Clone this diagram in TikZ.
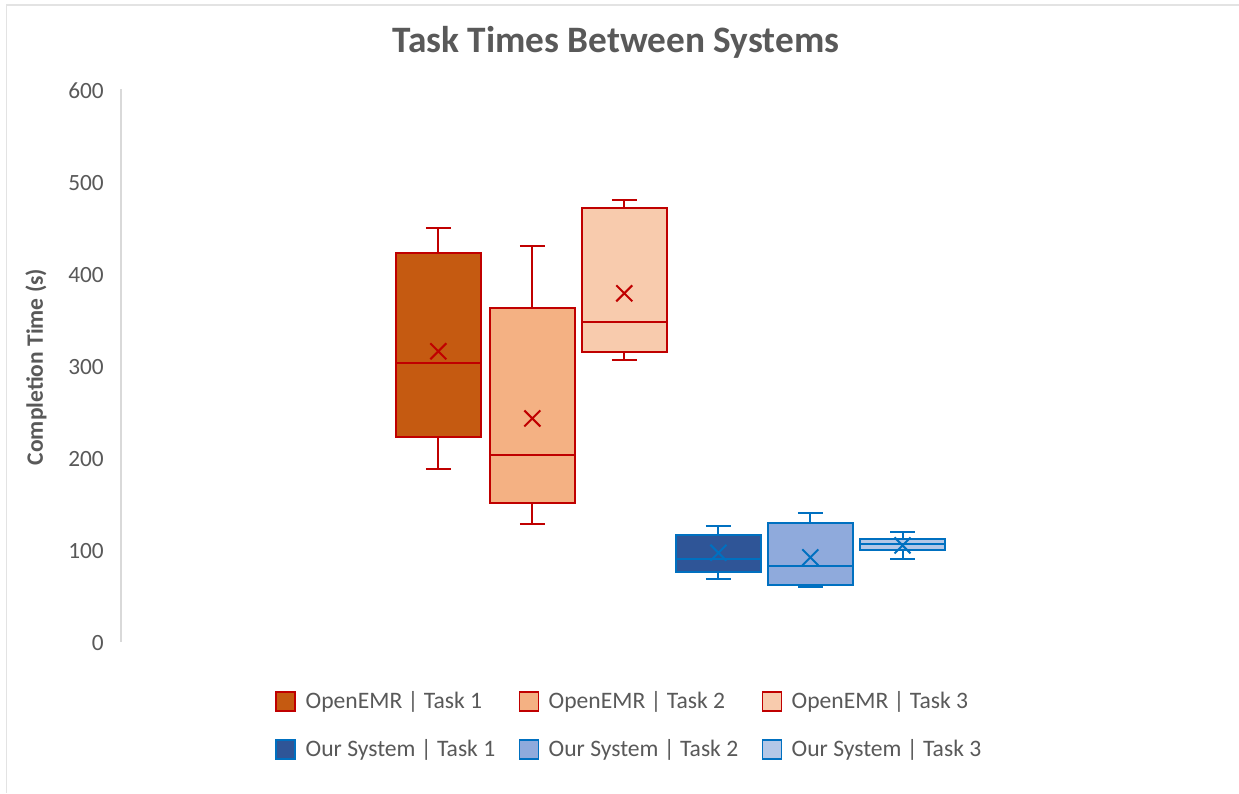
\documentclass[tikz,border=0pt]{standalone}
\usepackage{fontspec}
\setmainfont{Carlito}
\definecolor{txt}{HTML}{595959}
\definecolor{axisgray}{HTML}{D9D9D9}
\definecolor{borderg}{HTML}{E3E3E3}
\definecolor{oA}{HTML}{C55A11}
\definecolor{oB}{HTML}{F4B183}
\definecolor{oC}{HTML}{F8CBAD}
\definecolor{bA}{HTML}{2F5597}
\definecolor{bB}{HTML}{8FAADC}
\definecolor{bC}{HTML}{B4C7E7}
\definecolor{redline}{HTML}{C00000}
\definecolor{blueline}{HTML}{0070C0}
\newcommand\py[1]{642-0.92*#1}
% cx, lo, q1, med, q3, hi, mean, fill, draw
\newcommand\myboxplot[9]{%
  \draw[line width=2pt,#9] (#1,{\py{#5}}) -- (#1,{\py{#6}});
  \draw[line width=2pt,#9] (#1-12.5,{\py{#6}}) -- (#1+12.5,{\py{#6}});
  \draw[line width=2pt,#9] (#1,{\py{#3}}) -- (#1,{\py{#2}});
  \draw[line width=2pt,#9] (#1-12.5,{\py{#2}}) -- (#1+12.5,{\py{#2}});
  \filldraw[line width=2pt,fill=#8,draw=#9] (#1-42.3,{\py{#3}}) rectangle (#1+42.3,{\py{#5}});
  \draw[line width=2pt,#9] (#1-42.3,{\py{#4}}) -- (#1+42.3,{\py{#4}});
  \draw[line width=2pt,#9] (#1-8,{\py{#7}-8}) -- (#1+8,{\py{#7}+8})
                           (#1-8,{\py{#7}+8}) -- (#1+8,{\py{#7}-8});
}
\tikzset{
  ticklbl/.style={anchor=east,text=txt,font=\fontsize{23.3}{23.3}\selectfont,inner sep=0pt},
  legtxt/.style={anchor=west,text=txt,font=\fontsize{23.6}{23.6}\selectfont,inner sep=0pt},
  legsq/.style={line width=1.5pt,minimum width=19pt,minimum height=19pt,inner sep=0pt,anchor=center}
}
\begin{document}
\begin{tikzpicture}[x=1pt,y=-1pt]
\useasboundingbox (0,0) rectangle (1239,793);
\fill[white] (0,0) rectangle (1239,793);
\draw[borderg,line width=1.5pt] (6.5,793) -- (6.5,5) -- (1239,5);
% title
\node[text=txt,font=\fontsize{37.3}{37.3}\selectfont\bfseries,anchor=base] (title) at (616,52) {Task Times Between Systems};
% axis
\draw[axisgray,line width=1.5pt] (121,89) -- (121,642);
\foreach \v in {0,100,...,600}{
  \node[ticklbl] (t\v) at (104,{\py{\v}+1}) {\v};
}
\node[rotate=90,text=txt,font=\fontsize{23.5}{23.5}\selectfont\bfseries] (ytitle) at (36,367) {Completion Time (s)};
% boxes
\myboxplot{438.3}{188}{222.5}{303.6}{423}{449.7}{316}{oA}{redline}
\myboxplot{532.3}{128.6}{150.7}{203}{362.7}{430}{243}{oB}{redline}
\myboxplot{624.3}{306.5}{315.2}{347.8}{471.4}{480}{379}{oC}{redline}
\myboxplot{718.4}{68.5}{76.4}{90.5}{116.7}{126.4}{97}{bA}{blueline}
\myboxplot{810.3}{59.5}{62}{83}{129.3}{139.9}{92}{bB}{blueline}
\myboxplot{902.5}{89.9}{100.4}{106}{112.3}{119.6}{105}{bC}{blueline}
% legend
\node[legsq,fill=oA,draw=redline] (l1) at (285.3,701.5) {};
\node[legtxt] (lt1) at (305.5,702) {OpenEMR | Task 1};
\node[legsq,fill=oB,draw=redline] (l2) at (528.8,701.5) {};
\node[legtxt] (lt2) at (548.5,702) {OpenEMR | Task 2};
\node[legsq,fill=oC,draw=redline] (l3) at (772,701.5) {};
\node[legtxt] (lt3) at (791.5,702) {OpenEMR | Task 3};
\node[legsq,fill=bA,draw=blueline] (l4) at (285.3,749.5) {};
\node[legtxt] (lt4) at (305.5,750) {Our System | Task 1};
\node[legsq,fill=bB,draw=blueline] (l5) at (528.8,749.5) {};
\node[legtxt] (lt5) at (548.5,750) {Our System | Task 2};
\node[legsq,fill=bC,draw=blueline] (l6) at (772,749.5) {};
\node[legtxt] (lt6) at (791.5,750) {Our System | Task 3};
\end{tikzpicture}
\end{document}
